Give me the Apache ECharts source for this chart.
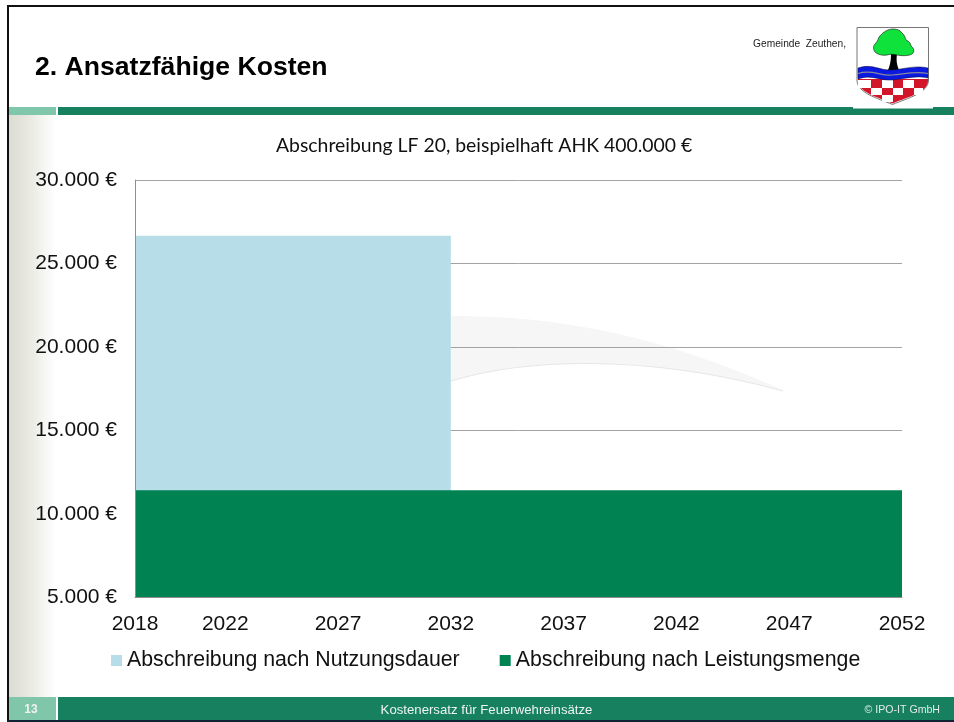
<!DOCTYPE html>
<html><head><meta charset="utf-8">
<style>html,body{margin:0;padding:0;background:#fff}#c{width:954px;height:722px}</style>
<script src="https://cdn.jsdelivr.net/npm/echarts@6/dist/echarts.min.js"></script>
</head><body><div id="c"></div>
<script>
const years=[2018,2019,2020,2021,2022,2023,2024,2025,2026,2027,2028,2029,2030,2031,2032,2033,2034,2035,2036,2037,2038,2039,2040,2041,2042,2043,2044,2045,2046,2047,2048,2049,2050,2051,2052];
const tickYears=[2018,2022,2027,2032,2037,2042,2047,2052];
const nutzungsdauer=[26667,26667,26667,26667,26667,26667,26667,26667,26667,26667,26667,26667,26667,26667,26667,null,null,null,null,null,null,null,null,null,null,null,null,null,null,null,null,null,null,null,null];
const leistungsmenge=[11429,11429,11429,11429,11429,11429,11429,11429,11429,11429,11429,11429,11429,11429,11429,11429,11429,11429,11429,11429,11429,11429,11429,11429,11429,11429,11429,11429,11429,11429,11429,11429,11429,11429,11429];
const seriesNames=['Abschreibung nach Nutzungsdauer','Abschreibung nach Leistungsmenge'];
const chartTitle='Abschreibung LF 20, beispielhaft AHK 400.000 €';
const slideTitle='2. Ansatzfähige Kosten';

const dark='#17805f',light='#7fc6ab',F='"Liberation Sans",Arial,sans-serif';
let shapeId=0;
const pathEl=(d,style,z)=>{const name='p'+(shapeId++);echarts.graphic.registerShape(name,echarts.graphic.extendPath(d,{}));return {type:name,z,silent:true,style};};
const rect=(x,y,w,h,fill,z=-5)=>({type:'rect',z,silent:true,shape:{x,y,width:w,height:h},style:{fill}});
const txt=(x,y,text,font,fill,align='left')=>({type:'text',z:5,silent:true,x,y,style:{text,font,fill,align,verticalAlign:'middle'}});
const graphic=[
 {type:'rect',z:-6,silent:true,shape:{x:9,y:115,width:47,height:582},style:{fill:{type:'linear',x:0,y:0,x2:1,y2:0,colorStops:[{offset:0,color:'#dcdcd2'},{offset:.35,color:'#e6e6de'},{offset:1,color:'#ffffff'}]}}},
 pathEl('M451 316C560 316 660 335 785 391C640 352 520 360 451 381Z',{fill:'#f6f6f6'},-5),
 pathEl('M451 381C520 360 640 352 783 391',{fill:'none',stroke:'#e6e6e6',lineWidth:1.2},-5),
 rect(7,5,947,2,'#111'),rect(7,5,2,717,'#111'),
 rect(9,107,47,8,light),rect(58,107,896,8,dark),
 rect(9,697,47,23,light),rect(58,697,896,23,dark),rect(7,720,947,2,'#123'),
 rect(853,107,80,1.5,'#fff',-4),
 txt(35,68,slideTitle,'bold 26.6px '+F,'#000'),
 txt(31,710,'13','bold 12px '+F,'#f2f2f2','center'),
 txt(486.5,710,'Kostenersatz für Feuerwehreinsätze','13.2px '+F,'#eef4f1','center'),
 txt(940,710,'© IPO-IT GmbH','10.6px '+F,'#e4ece8','right'),
 txt(846,44,'Gemeinde  Zeuthen,','10.2px '+F,'#222','right'),
 pathEl('M857 27.5H928.5V80C928.5 93 908 98 892.5 104.5C877 98 857 93 857 80Z',{fill:'#fff',stroke:'#777',lineWidth:1},4),
 pathEl('M858 79H928V81C928 92 908 97 892.5 103.5C877 97 858 92 858 81Z',{fill:'#d3152a'},5),
 ...[[858,80,13,8],[882,80,11,8],[903,80,11,8],[871,88,11,7],[893,88,10,7],[914,88,9,7],[882,95,11,7]].map(([x,y,w,h])=>rect(x,y,w,h,'#fff',6)),
 pathEl('M858 68C872 63 880 71 892 70C905 69 915 65 928 68V78C915 75 905 79 892 80C880 81 872 74 858 79Z',{fill:'#0a18e0',stroke:'#113',lineWidth:.5},7),
 pathEl('M858 73.5C872 69 880 76 892 75C905 74 915 71 928 73.5',{fill:'none',stroke:'#889',lineWidth:1.2},8),
 pathEl('M891 54H897C896 61 897 65 899 70H888C890 65 891 61 891 54Z',{fill:'#000'},6),
 pathEl('M879 37C883 32 888 29 893 29C897 29 900 30 902 33C905 35 905 38 906 40C909 41 911 44 911 46C914 48 915 52 912 54C909 56 902 56 897 55C893 54 890 54 887 55C882 56 877 54 875 52C873 49 873 46 875 44C877 42 878 40 879 37Z',{fill:'#0fe23a',stroke:'#111',lineWidth:.6},7)
];
const chart=echarts.init(document.getElementById('c'),null,{renderer:'canvas'});
const axisLineStyle={show:true,lineStyle:{color:'#8f8f8f',width:1}};
chart.setOption({
 animation:false,backgroundColor:'transparent',
 title:{text:chartTitle,left:271,top:131,textStyle:{fontFamily:'Lato',fontSize:19.4,fontWeight:'normal',color:'#111'}},
 grid:{left:135,right:52,top:180,bottom:124.5,containLabel:false},
 legend:{left:111,top:650,padding:0,itemWidth:11,itemHeight:11,itemGap:40,icon:'rect',textStyle:{fontFamily:F,fontSize:21.3,color:'#111'},data:seriesNames},
 xAxis:{type:'category',boundaryGap:false,data:years,z:10,
  axisLine:axisLineStyle,axisTick:{show:false},splitLine:{show:false},
  axisLabel:{margin:16,interval:(i,v)=>tickYears.includes(Number(v)),fontFamily:F,fontSize:21,color:'#111',hideOverlap:false,showMinLabel:true,showMaxLabel:true}},
 yAxis:[{type:'value',min:5000,max:30000,interval:5000,
  axisLine:{show:false},axisTick:{show:false},
  splitLine:{show:true,lineStyle:{color:'#a3a3a3',width:1}},
  axisLabel:{margin:18,padding:[3,0,0,0],fontFamily:F,fontSize:21,color:'#111',formatter:v=>v.toLocaleString('de-DE')+' €'}},
  {type:'value',position:'left',min:5000,max:30000,interval:5000,z:10,
  axisLine:axisLineStyle,axisTick:{show:false},splitLine:{show:false},axisLabel:{show:false}}],
 series:[
  {name:seriesNames[0],type:'line',data:nutzungsdauer,symbol:'none',showSymbol:false,lineStyle:{width:0},areaStyle:{color:'#b7dde9',opacity:1},itemStyle:{color:'#b7dde9'},z:2},
  {name:seriesNames[1],type:'line',data:leistungsmenge,symbol:'none',showSymbol:false,lineStyle:{width:0},areaStyle:{color:'#008252',opacity:1},itemStyle:{color:'#008252'},z:3}
 ],
 graphic:{elements:graphic}
});
</script></body></html>
